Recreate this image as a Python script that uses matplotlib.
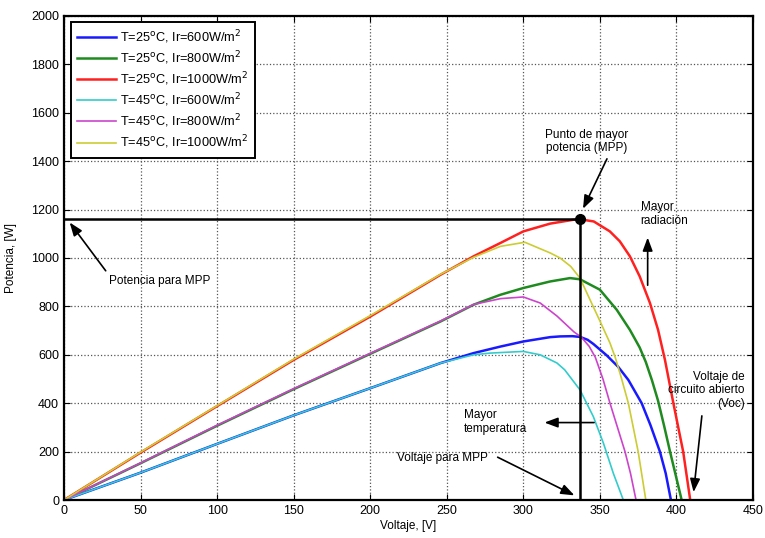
import matplotlib
matplotlib.use("Agg")
import matplotlib.pyplot as plt

plt.rcParams['font.family'] = ['Liberation Sans', 'DejaVu Sans']

labels = [
    "T=25$^{\\mathrm{o}}$C, Ir=600W/m$^{2}$",
    "T=25$^{\\mathrm{o}}$C, Ir=800W/m$^{2}$",
    "T=25$^{\\mathrm{o}}$C, Ir=1000W/m$^{2}$",
    "T=45$^{\\mathrm{o}}$C, Ir=600W/m$^{2}$",
    "T=45$^{\\mathrm{o}}$C, Ir=800W/m$^{2}$",
    "T=45$^{\\mathrm{o}}$C, Ir=1000W/m$^{2}$",
]

v_b25_600 = [0, 50, 100, 150, 200, 246, 267.5, 285, 300, 317.5, 324, 332, 337, 342, 345.7, 354.4, 362, 368.6, 377.3, 383, 389.2, 393, 396.4]
p_b25_600 = [0, 113, 232, 350, 462, 566, 607, 634, 655, 673, 676, 677, 674, 662, 645, 598, 550, 496, 400, 310, 200, 110, 0]

v_g25_800 = [0, 50, 100, 150, 200, 246, 267.5, 285, 300, 317.5, 330.5, 337, 350, 361, 369.6, 376, 380, 384, 388, 392, 396, 400, 403.4]
p_g25_800 = [0, 152, 307, 458, 604, 738, 807, 848, 876, 903, 917, 912, 869, 786, 703, 630, 570, 495, 410, 305, 195, 90, 0]

v_r25_1000 = [0, 50, 100, 150, 200, 246, 267.5, 285, 300, 317.5, 332.7, 337, 346, 356.5, 363, 369.6, 376, 382.7, 388, 392.5, 398, 404.4, 409]
p_r25_1000 = [0, 196, 388, 579, 758, 931, 1007, 1062, 1110, 1142, 1158, 1160, 1151, 1110, 1069, 1007, 924, 814, 703, 579, 400, 200, 0]

v_c45_600 = [0, 50, 100, 150, 200, 246, 267.5, 278, 300, 311, 322, 327, 337, 345.7, 352.3, 358.8, 365.3]
p_c45_600 = [0, 113, 232, 350, 462, 566, 600, 607, 614, 600, 566, 538, 455, 345, 235, 110, 0]

v_m45_800 = [0, 50, 100, 150, 200, 246, 267.5, 285, 300, 311, 322, 333, 338, 343, 347, 352, 356.6, 361.5, 366.4, 370, 373.6]
p_m45_800 = [0, 153, 309, 460, 606, 740, 808, 832, 839, 814, 760, 695, 672, 635, 590, 500, 400, 300, 200, 110, 0]

v_y45_1000 = [0, 50, 100, 150, 200, 246, 267.5, 285, 301, 317.5, 324, 331, 337, 343.6, 350, 356.5, 360, 364, 368.6, 375, 380]
p_y45_1000 = [0, 198, 390, 582, 762, 933, 1003, 1048, 1065, 1021, 1000, 965, 917, 827, 740, 650, 590, 505, 400, 200, 0]

mpp_v = 337
mpp_p = 1162

x_ticks = [0, 50, 100, 150, 200, 250, 300, 350, 400, 450]
y_ticks = [0, 200, 400, 600, 800, 1000, 1200, 1400, 1600, 1800, 2000]

fig = plt.figure(figsize=(7.65, 5.38), dpi=100)
ax = fig.add_axes([0.0837, 0.0706, 0.9843 - 0.0837, 0.9703 - 0.0706])

series = [
    (v_b25_600, p_b25_600, '#1a1aff', 1.8),
    (v_g25_800, p_g25_800, '#1f8a1f', 1.8),
    (v_r25_1000, p_r25_1000, '#ff2020', 1.8),
    (v_c45_600, p_c45_600, '#33cccc', 1.2),
    (v_m45_800, p_m45_800, '#cc44cc', 1.2),
    (v_y45_1000, p_y45_1000, '#cccc33', 1.2),
]
for (v, p, c, lw), lab in zip(series, labels):
    ax.plot(v, p, color=c, lw=lw, label=lab, solid_joinstyle='round')

ax.plot([0, mpp_v], [mpp_p, mpp_p], color='black', lw=1.8)
ax.plot([mpp_v, mpp_v], [0, mpp_p], color='black', lw=1.8)
ax.plot([mpp_v], [mpp_p], 'o', color='black', ms=7)

ax.set_xlim(0, 450)
ax.set_ylim(0, 2000)
ax.set_xticks(x_ticks)
ax.set_yticks(y_ticks)
ax.grid(True, linestyle=':', color='#555555', lw=0.9)
ax.tick_params(direction='in', top=True, right=True, labelsize=9, length=4)
for s in ax.spines.values():
    s.set_linewidth(1.6)
ax.set_xlabel('Voltaje, [V]', fontsize=8.5, labelpad=2)
ax.set_ylabel('Potencia, [W]', fontsize=8.5, labelpad=10)

leg = ax.legend(loc='upper left', fontsize=9.2, fancybox=False, framealpha=1,
                edgecolor='black', borderpad=0.5, handlelength=3.0,
                handletextpad=0.35, labelspacing=0.27, borderaxespad=0,
                bbox_to_anchor=(0.010, 0.9876))
leg.get_frame().set_linewidth(1.4)

ap = dict(arrowstyle='-|>,head_length=0.8,head_width=0.3', color='black', lw=1.2)
fs = 8.5
ax.annotate('', xy=(338.2, 1193), xytext=(355.4, 1420), arrowprops=ap)
ax.text(341.6, 1481, 'Punto de mayor\npotencia (MPP)', ha='center', va='center', fontsize=fs)

ax.annotate('', xy=(381.2, 1096), xytext=(381.2, 876), arrowprops=ap)
ax.text(376.6, 1183, 'Mayor\nradiación', ha='left', va='center', fontsize=fs)

ax.annotate('', xy=(411, 21), xytext=(416.8, 359), arrowprops=ap)
ax.text(444.6, 453, 'Voltaje de\ncircuito abierto\n(Voc)', ha='right', va='center', fontsize=fs)

ax.annotate('', xy=(312, 320), xytext=(348, 320), arrowprops=ap)
ax.text(261, 322, 'Mayor\ntemperatura', ha='left', va='center', fontsize=fs)

ax.annotate('', xy=(335, 14), xytext=(281.6, 182), arrowprops=ap)
ax.text(217.5, 175, 'Voltaje para MPP', ha='left', va='center', fontsize=fs)

ax.annotate('', xy=(2.6, 1156), xytext=(28.3, 938), arrowprops=ap)
ax.text(29.4, 907, 'Potencia para MPP', ha='left', va='center', fontsize=fs)

fig.savefig('out.png', dpi=100)
